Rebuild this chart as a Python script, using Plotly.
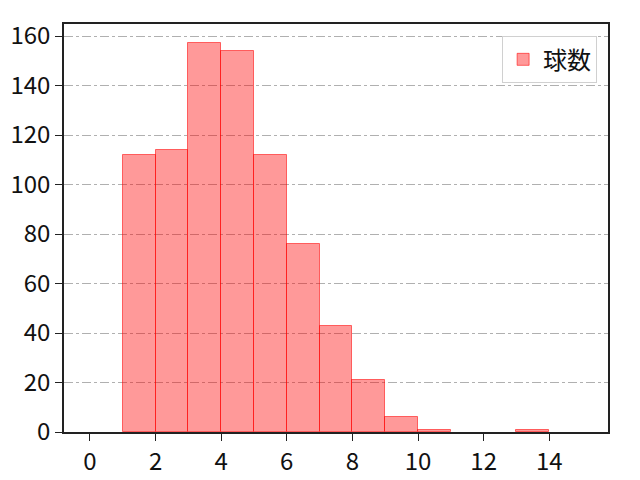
import plotly.graph_objects as go

# histogram bins (left edges) and counts
bin_left = [1, 2, 3, 4, 5, 6, 7, 8, 9, 10, 11, 12, 13, 14]
counts = [112, 114, 157, 154, 112, 76, 43, 21, 6, 1, 0, 0, 1, 0]
series_name = "球数"

x_ticks = [0, 2, 4, 6, 8, 10, 12, 14]
y_ticks = [0, 20, 40, 60, 80, 100, 120, 140, 160]

font_family = "Noto Sans CJK JP, DejaVu Sans, sans-serif"

# empty bins are not drawn at all
shown = [(b + 0.5, c) for b, c in zip(bin_left, counts) if c > 0]

fig = go.Figure()
fig.add_trace(go.Bar(
    x=[s[0] for s in shown],
    y=[s[1] for s in shown],
    width=1,
    name=series_name,
    showlegend=True,
    marker=dict(color="rgba(255,0,0,0.4)",
                line=dict(color="rgba(255,0,0,0.55)", width=1)),
))

fig.update_xaxes(
    range=[-0.79, 15.79],
    tickvals=x_ticks,
    ticks="outside", ticklen=7, tickwidth=1.3, tickcolor="#222",
    showline=True, linecolor="#222", linewidth=1.5, mirror=True,
    showgrid=False, zeroline=False, automargin=False,
)
fig.update_yaxes(
    range=[0, 164.85],
    tickvals=y_ticks,
    ticks="outside", ticklen=7, tickwidth=1.3, tickcolor="#222",
    showline=True, linecolor="#222", linewidth=1.5, mirror=True,
    showgrid=True, gridcolor="#b0b0b0", gridwidth=1, griddash="dashdot",
    zeroline=False, automargin=False,
)

fig.update_layout(
    width=640, height=480,
    margin=dict(l=56, r=40, t=16, b=56),
    plot_bgcolor="white", paper_bgcolor="white",
    font=dict(family=font_family, size=24, color="#111"),
    bargap=0,
    legend=dict(
        x=0.98, y=0.97, xanchor="right", yanchor="top",
        bordercolor="#d0d0d0", borderwidth=1, bgcolor="white",
        font=dict(size=24),
    ),
)

fig.write_html("out.html")
